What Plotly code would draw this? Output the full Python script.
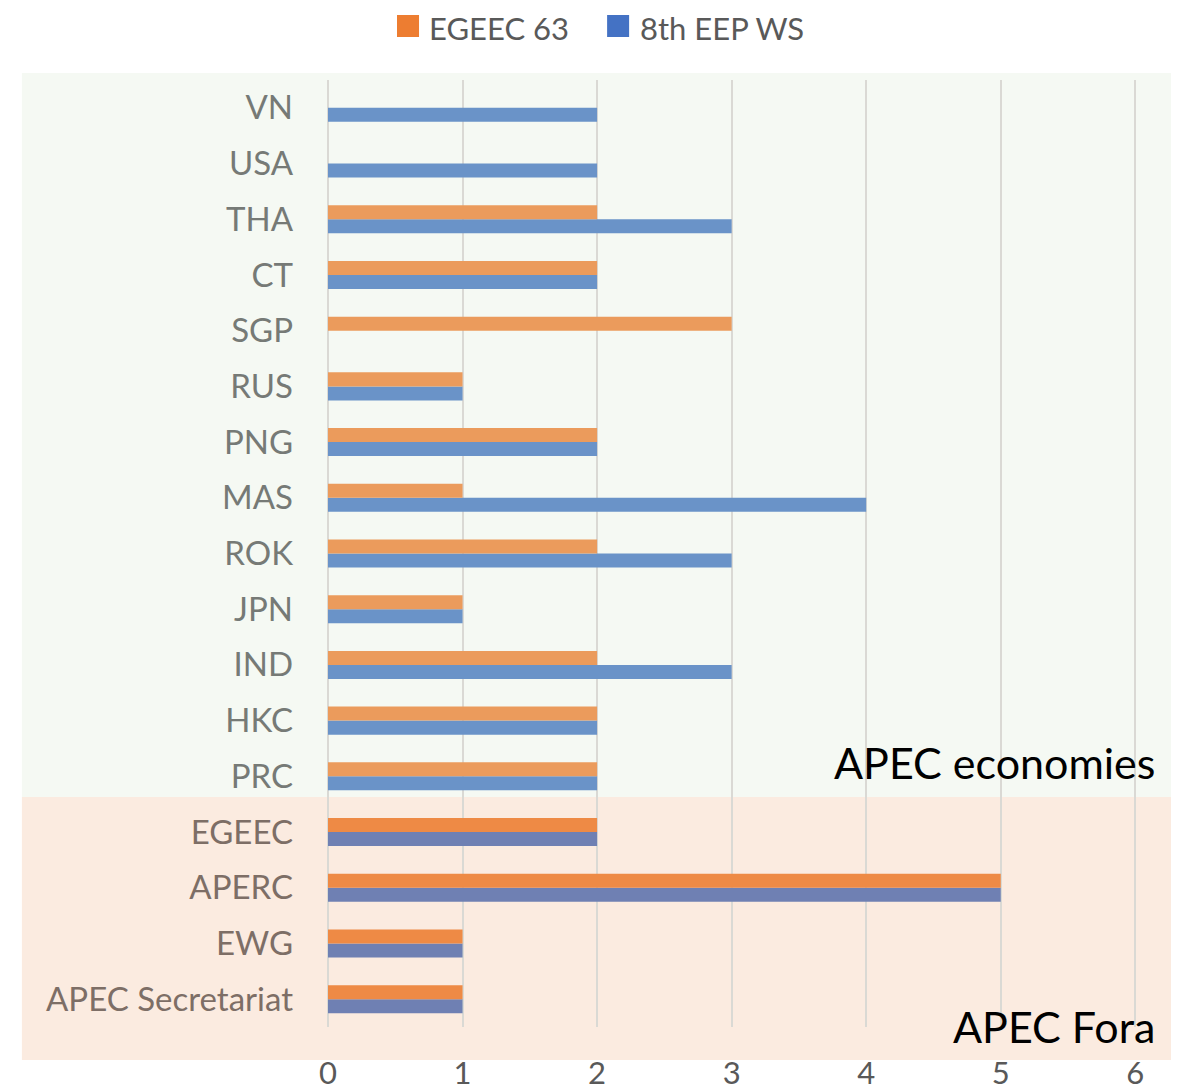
import plotly.graph_objects as go

categories = ["APEC Secretariat", "EWG", "APERC", "EGEEC", "PRC", "HKC", "IND", "JPN",
              "ROK", "MAS", "PNG", "RUS", "SGP", "CT", "THA", "USA", "VN"]
group = ["fora"] * 4 + ["econ"] * 13
egeec63 = [1, 1, 5, 2, 2, 2, 2, 1, 2, 1, 2, 1, 3, 2, 2, 0, 0]
eep_ws = [1, 1, 5, 2, 2, 2, 3, 1, 3, 4, 2, 1, 0, 2, 3, 2, 2]
x_ticks = [0, 1, 2, 3, 4, 5, 6]
series_names = ["EGEEC 63", "8th EEP WS"]
legend_colors = ["#ed7d31", "#4472c4"]

orange_col = {"econ": "#eb9b5c", "fora": "#ee8a45"}
blue_col = {"econ": "#6a93c8", "fora": "#6f80b3"}
label_col = {"econ": "#767a76", "fora": "#7d6e66"}

FONT = "Lato"
OFF = 8  # page body margin

ticktext = [f'<span style="color:{label_col[g]}">{c}</span>' for c, g in zip(categories, group)]

fig = go.Figure()
fig.add_trace(go.Bar(
    y=categories, x=eep_ws, orientation="h", name=series_names[1],
    marker=dict(color=[blue_col[g] for g in group], line=dict(width=0)),
))
fig.add_trace(go.Bar(
    y=categories, x=egeec63, orientation="h", name=series_names[0],
    marker=dict(color=[orange_col[g] for g in group], line=dict(width=0)),
))

x1_range = 6.02
pw = (1135 - 328) * x1_range / 6
L = 328 - OFF
top, bottom = 80 - OFF, 1027 - OFF
W, H = 1179 - OFF, 1091 - OFF
ph = bottom - top


def px_x(px):
    return (px - OFF - L) / pw


def px_y(py):
    return (bottom - (py - OFF)) / ph


fig.add_shape(type="rect", xref="paper", yref="paper",
              x0=px_x(22), x1=px_x(1175), y0=px_y(797), y1=px_y(73),
              fillcolor="#f5f9f3", line=dict(width=0), layer="below")
fig.add_shape(type="rect", xref="paper", yref="paper",
              x0=px_x(22), x1=px_x(1175), y0=px_y(1060), y1=px_y(797),
              fillcolor="#fbebe0", line=dict(width=0), layer="below")

# manual legend (large square swatches)
legend_sq_left = [397, 607]
legend_txt_left = [428, 639]
for name, col, sx, tx in zip(series_names, legend_colors, legend_sq_left, legend_txt_left):
    fig.add_shape(type="rect", xref="paper", yref="paper",
                  x0=px_x(sx), x1=px_x(sx + 22), y0=px_y(37), y1=px_y(15),
                  fillcolor=col, line=dict(width=0))
    fig.add_annotation(text=name, xref="paper", yref="paper",
                       x=px_x(tx), y=px_y(OFF), xanchor="left", yanchor="top",
                       showarrow=False, borderpad=0,
                       font=dict(family=FONT, size=31, color="#595959"))

fig.add_annotation(text="APEC economies", xref="paper", yref="paper",
                   x=px_x(1157), y=px_y(762),
                   xanchor="right", yanchor="middle", showarrow=False,
                   font=dict(family=FONT, size=43, color="#000000"))
fig.add_annotation(text="APEC Fora", xref="paper", yref="paper",
                   x=px_x(1157), y=px_y(1026),
                   xanchor="right", yanchor="middle", showarrow=False,
                   font=dict(family=FONT, size=43, color="#000000"))

fig.update_layout(
    width=W, height=H,
    margin=dict(l=L, r=int(W - L - pw), t=top, b=H - bottom, autoexpand=False),
    paper_bgcolor="white", plot_bgcolor="rgba(0,0,0,0)",
    barmode="group", bargap=0.497, bargroupgap=0,
    font=dict(family=FONT, size=33, color="#595959"),
    showlegend=False,
)
fig.update_xaxes(range=[0, x1_range], tickvals=x_ticks, ticktext=[str(v) for v in x_ticks],
                 showgrid=True, gridcolor="#dad9d4", gridwidth=1.5,
                 zeroline=True, zerolinecolor="#dad9d4", zerolinewidth=1.5,
                 showline=False, ticks="", ticklabelstandoff=25, automargin=False,
                 tickfont=dict(family=FONT, size=31, color="#595959"))
fig.update_yaxes(categoryorder="array", categoryarray=categories,
                 tickvals=categories, ticktext=ticktext, automargin=False,
                 showgrid=False, zeroline=False, showline=False, ticks="",
                 ticklabelstandoff=34,
                 tickfont=dict(family=FONT, size=33))

fig.write_html("out.html")
